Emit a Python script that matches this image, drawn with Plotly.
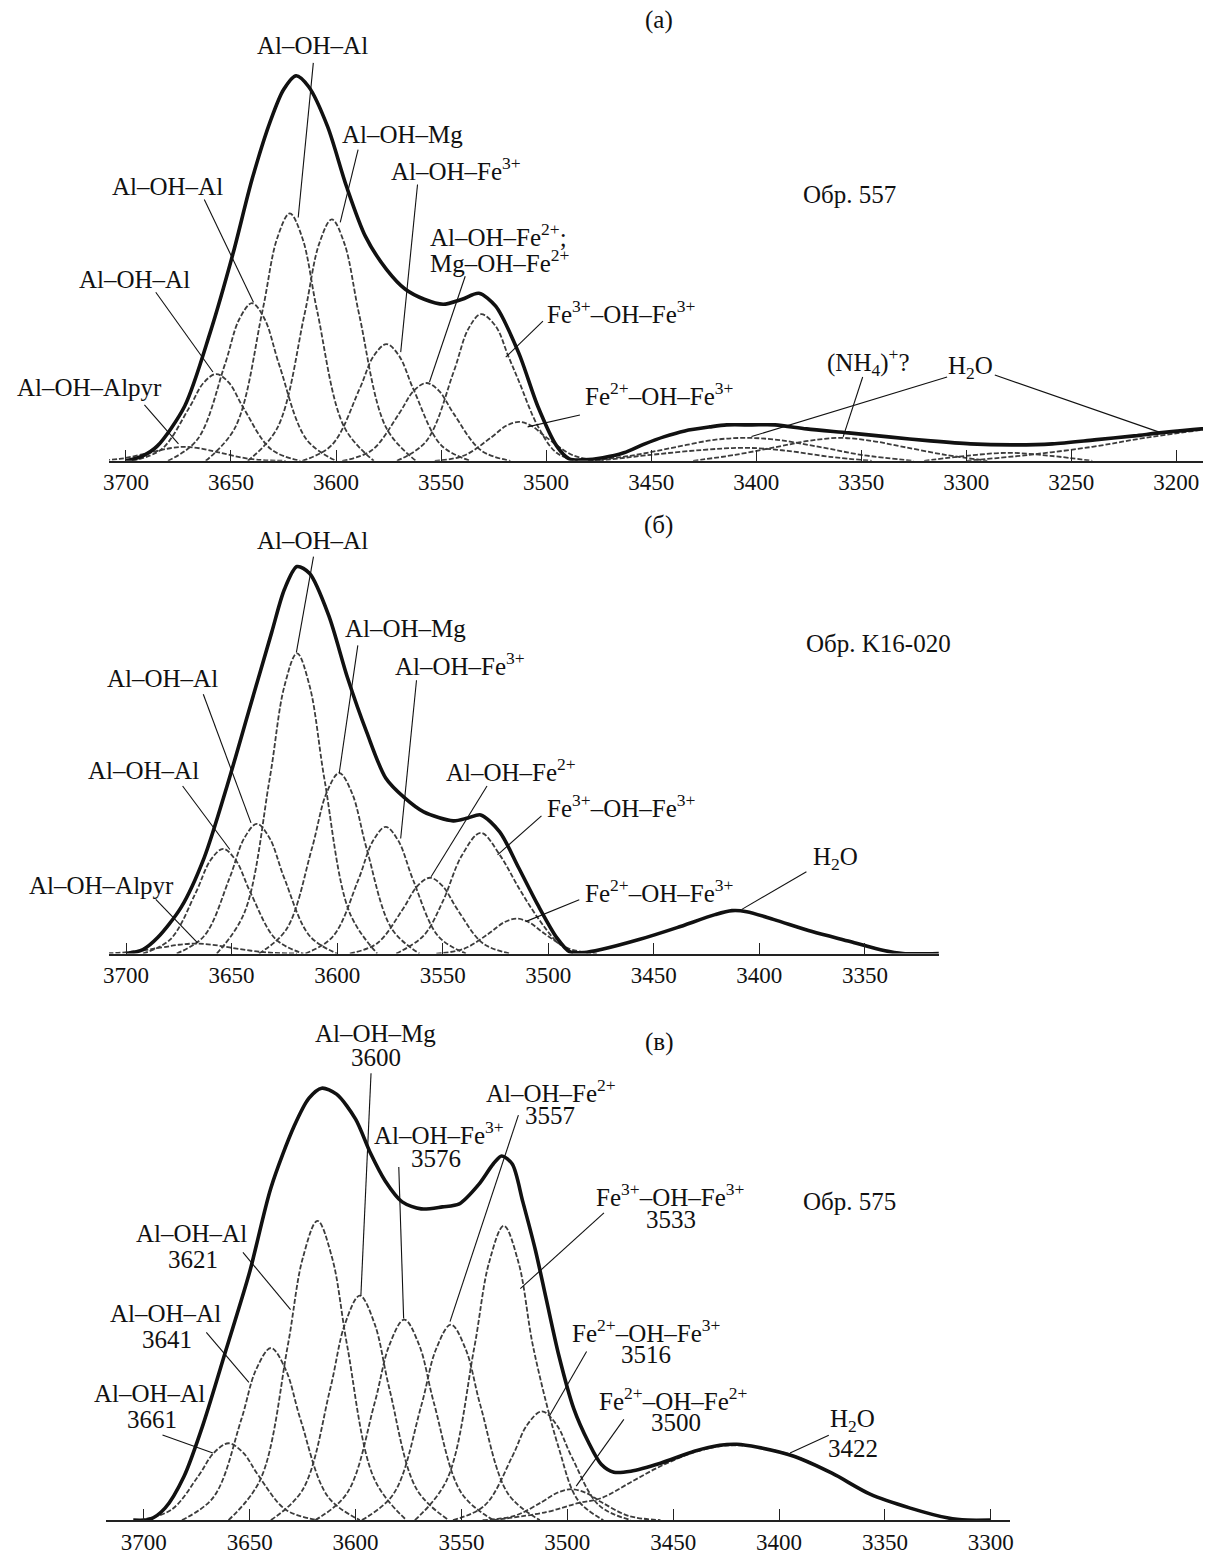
import plotly.graph_objects as go

# ---------------- data: panel (a) Обр. 557 ----------------
a_ticks = [3700, 3650, 3600, 3550, 3500, 3450, 3400, 3350, 3300, 3250, 3200]
a_env_x = [3700, 3692, 3685, 3672, 3660, 3649, 3640, 3631, 3625, 3619, 3613, 3604, 3595, 3586, 3576, 3567,
           3558, 3549, 3540, 3532, 3524, 3513, 3504, 3495, 3489, 3482, 3473, 3463, 3453, 3444, 3434, 3422,
           3414, 3402, 3391, 3376, 3356, 3337, 3317, 3298, 3278, 3259, 3239, 3220, 3208, 3188, 3180]
a_env_y = [0, 5, 15, 55, 128, 208, 282, 342, 372, 386, 375, 335, 275, 225, 192, 172,
           162, 157, 162, 168, 155, 108, 55, 15, 2, 1, 3, 8, 17, 24, 30, 34,
           36, 36, 36, 32, 28, 24, 20, 17, 16, 17, 21, 25, 28, 32, 33]
a_comp_x = [
    [3720, 3703, 3688, 3679, 3672, 3665, 3656, 3641, 3624],
    [3697, 3683, 3670, 3663, 3657, 3651, 3644, 3631, 3617],
    [3680, 3666, 3653, 3646, 3640, 3634, 3627, 3614, 3600],
    [3662, 3648, 3635, 3628, 3622, 3616, 3609, 3596, 3582],
    [3642, 3628, 3615, 3608, 3602, 3596, 3589, 3576, 3562],
    [3616, 3602, 3589, 3582, 3576, 3570, 3563, 3550, 3536],
    [3597, 3583, 3570, 3563, 3557, 3551, 3544, 3531, 3517],
    [3571, 3557, 3544, 3537, 3531, 3524, 3518, 3513, 3504, 3495, 3485],
    [3553, 3539, 3526, 3519, 3513, 3507, 3500, 3487, 3473],
    [3480, 3460, 3440, 3420, 3405, 3390, 3370, 3350, 3325],
    [3475, 3450, 3425, 3405, 3385, 3365, 3345],
    [3430, 3410, 3390, 3375, 3360, 3345, 3330, 3310, 3290],
    [3320, 3300, 3280, 3260, 3240],
    [3300, 3270, 3240, 3215, 3188, 3170],
]
a_comp_y = [
    [0, 1.9, 8.5, 12.6, 14, 12.6, 8.5, 1.9, 0],
    [0, 11.7, 52.8, 78.3, 87, 78.3, 52.8, 11.7, 0],
    [0, 21.3, 95.9, 142.2, 158, 142.2, 95.9, 21.3, 0],
    [0, 33.5, 150.5, 223.2, 248, 223.2, 150.5, 33.5, 0],
    [0, 32.7, 146.9, 217.8, 242, 217.8, 146.9, 32.7, 0],
    [0, 15.8, 71, 105.3, 117, 105.3, 71, 15.8, 0],
    [0, 10.5, 47.3, 70.2, 78, 70.2, 47.3, 10.5, 0],
    [0, 19.8, 89.2, 132.3, 147, 135, 105, 80, 35, 8, 0],
    [0, 5.3, 23.7, 35.1, 39, 35.1, 23.7, 5.3, 0],
    [0, 5, 13, 21, 23, 21, 14, 6, 0],
    [0, 6, 11, 13, 10, 4, 0],
    [0, 6, 14, 20, 23, 20, 14, 6, 0],
    [0, 5, 8, 5, 0],
    [0, 6, 14, 23, 31, 36],
]

# ---------------- data: panel (б) Обр. K16-020 ----------------
b_ticks = [3700, 3650, 3600, 3550, 3500, 3450, 3400, 3350]
b_env_x = [3700, 3692, 3685, 3674, 3663, 3652, 3642, 3631, 3625, 3619, 3613, 3604, 3595, 3586, 3577, 3568,
           3559, 3545, 3538, 3532, 3523, 3514, 3505, 3496, 3490, 3483, 3475, 3457, 3439, 3421, 3413, 3406,
           3393, 3375, 3357, 3341, 3332, 3315]
b_env_y = [0, 4, 16, 46, 96, 169, 242, 322, 365, 388, 381, 339, 276, 222, 176, 156,
           142, 133, 136, 139, 122, 86, 49, 16, 2, 1, 4, 14, 26, 39, 43, 42,
           34, 22, 12, 3, 0, 0]
b_comp_x = [
    [3715, 3699, 3683, 3675, 3667, 3659, 3651, 3635, 3619],
    [3692, 3679, 3667, 3660, 3654, 3648, 3641, 3629, 3616],
    [3676, 3663, 3651, 3644, 3638, 3632, 3625, 3613, 3600],
    [3657, 3644, 3632, 3625, 3619, 3613, 3606, 3594, 3581],
    [3637, 3624, 3612, 3605, 3599, 3593, 3586, 3574, 3561],
    [3615, 3602, 3590, 3583, 3577, 3571, 3564, 3552, 3539],
    [3594, 3581, 3569, 3562, 3556, 3550, 3543, 3531, 3518],
    [3572, 3559, 3550, 3541, 3532, 3523, 3514, 3505, 3496, 3488],
    [3553, 3540, 3528, 3521, 3515, 3509, 3502, 3490, 3477],
]
b_comp_y = [
    [0, 1.4, 6.1, 8.8, 10, 8.8, 6.1, 1.4, 0],
    [0, 14.2, 60.9, 93.5, 105, 93.5, 60.9, 14.2, 0],
    [0, 17.6, 75.4, 115.7, 130, 115.7, 75.4, 17.6, 0],
    [0, 40.6, 174.6, 267.9, 301, 267.9, 174.6, 40.6, 0],
    [0, 24.4, 105, 161.1, 181, 161.1, 105, 24.4, 0],
    [0, 17.1, 73.7, 113, 127, 113, 73.7, 17.1, 0],
    [0, 10.3, 44.1, 67.6, 76, 67.6, 44.1, 10.3, 0],
    [0, 18, 52, 98, 121, 99, 66, 36, 12, 0],
    [0, 4.7, 20.3, 31.2, 35, 31.2, 20.3, 4.7, 0],
]

# ---------------- data: panel (в) Обр. 575 ----------------
c_ticks = [3700, 3650, 3600, 3550, 3500, 3450, 3400, 3350, 3300]
c_env_x = [3705, 3697, 3690, 3681, 3672, 3661, 3650, 3640, 3629, 3622, 3616, 3609, 3600, 3593, 3586, 3578,
           3569, 3559, 3551, 3542, 3535, 3531, 3526, 3521, 3515, 3510, 3504, 3497, 3490, 3484, 3478, 3470,
           3456, 3440, 3428, 3420, 3410, 3393, 3375, 3357, 3338, 3320, 3311, 3300]
c_env_y = [0, 1, 12, 44, 96, 172, 249, 333, 395, 423, 433, 427, 402, 368, 340, 319,
           312, 314, 317, 336, 357, 365, 357, 319, 270, 222, 165, 112, 78, 56, 48, 49,
           57, 69, 75, 76, 73, 64, 47, 26, 12, 2, 0, 0]
c_comp_x = [
    [3702, 3687, 3674, 3667, 3660, 3653, 3646, 3633, 3618],
    [3682, 3667, 3654, 3647, 3640, 3633, 3626, 3613, 3598],
    [3660, 3645, 3632, 3625, 3618, 3611, 3604, 3591, 3576],
    [3640, 3625, 3612, 3605, 3598, 3591, 3584, 3571, 3556],
    [3619, 3604, 3591, 3584, 3577, 3570, 3563, 3550, 3535],
    [3597, 3582, 3569, 3562, 3555, 3548, 3541, 3528, 3513],
    [3572, 3557, 3544, 3537, 3530, 3523, 3516, 3504, 3495, 3483],
    [3554, 3539, 3526, 3519, 3512, 3505, 3498, 3485, 3470],
    [3540, 3525, 3512, 3505, 3498, 3491, 3484, 3471, 3456],
    [3535, 3510, 3495, 3484, 3470, 3456, 3440, 3428, 3420, 3410, 3393, 3375, 3357, 3338, 3320, 3310],
]
c_comp_y = [
    [0, 10.4, 45, 67.3, 77, 67.3, 45, 10.4, 0],
    [0, 23.3, 100.7, 150.8, 172.5, 150.8, 100.7, 23.3, 0],
    [0, 40.5, 175.2, 262.2, 300, 262.2, 175.2, 40.5, 0],
    [0, 30.4, 131.4, 196.7, 225, 196.7, 131.4, 30.4, 0],
    [0, 27.1, 117.4, 175.7, 201, 175.7, 117.4, 27.1, 0],
    [0, 26.5, 114.5, 171.3, 196, 171.3, 114.5, 26.5, 0],
    [0, 39.8, 172.3, 257.8, 295, 257.8, 172.3, 72, 20, 0],
    [0, 14.7, 63.7, 95.3, 109, 95.3, 63.7, 14.7, 0],
    [0, 4.2, 18.1, 27.1, 31, 27.1, 18.1, 4.2, 0],
    [0, 8, 17, 22, 38, 54, 68, 74, 75, 73, 64.5, 47, 26, 12, 2, 0],
]

# ---------------- figure ----------------
W, H = 1207, 1555
FONT = "Liberation Serif, Times New Roman, serif"
COMP_STYLE = dict(color="#3c3c3c", width=1.8, dash="5px,2px", shape="spline", smoothing=1.0)
ENV_STYLE = dict(color="#111111", width=3.6, shape="spline", smoothing=0.8)

fig = go.Figure()


def add_panel(comp_x, comp_y, env_x, env_y, xa, ya):
    for xs, ys in zip(comp_x, comp_y):
        fig.add_trace(go.Scatter(x=xs, y=ys, mode="lines", line=COMP_STYLE,
                                 xaxis=xa, yaxis=ya, hoverinfo="skip", showlegend=False))
    fig.add_trace(go.Scatter(x=env_x, y=env_y, mode="lines", line=ENV_STYLE,
                             xaxis=xa, yaxis=ya, hoverinfo="skip", showlegend=False))


add_panel(a_comp_x, a_comp_y, a_env_x, a_env_y, "x", "y")
add_panel(b_comp_x, b_comp_y, b_env_x, b_env_y, "x2", "y2")
add_panel(c_comp_x, c_comp_y, c_env_x, c_env_y, "x3", "y3")


def xaxis_style(domain, rng, ticks, anchor):
    return dict(domain=domain, range=rng, anchor=anchor, tickvals=ticks,
                ticktext=[str(t) for t in ticks], ticks="inside", ticklen=11,
                tickwidth=1.3, tickcolor="#222", showline=True, linewidth=2,
                linecolor="#222", showgrid=False, zeroline=False,
                tickfont=dict(family=FONT, size=23, color="#111"),
                ticklabelstandoff=0, fixedrange=True)


def yaxis_style(bottom_px, top_px, rng, anchor):
    return dict(domain=[1 - bottom_px / H, 1 - top_px / H], range=rng, anchor=anchor,
                visible=False, showgrid=False, zeroline=False, fixedrange=True)


fig.update_layout(
    width=W, height=H, margin=dict(l=0, r=0, t=0, b=0),
    paper_bgcolor="white", plot_bgcolor="white",
    xaxis=xaxis_style([104 / W, 1.0], [3708.0, 3187.3], a_ticks, "y"),
    yaxis=yaxis_style(462, 22, [0, 440], "x"),
    xaxis2=xaxis_style([104 / W, 941 / W], [3708.0, 3314.8], b_ticks, "y2"),
    yaxis2=yaxis_style(956, 516, [0, 440], "x2"),
    xaxis3=xaxis_style([101 / W, 1012 / W], [3717.8, 3291.1], c_ticks, "y3"),
    yaxis3=yaxis_style(1524, 1044, [0, 480], "x3"),
)

annotations = []
shapes = []


def label(text, px, py, anchor="center", size=25):
    # text placed by page position (pixels from top-left)
    annotations.append(dict(text=text, x=px / W, y=1 - py / H, xref="paper", yref="paper",
                            showarrow=False, xanchor=anchor, yanchor="middle",
                            font=dict(family=FONT, size=size, color="#111")))


def pointer(x0, y0, x1, y1, xr, yr):
    shapes.append(dict(type="line", x0=x0, y0=y0, x1=x1, y1=y1, xref=xr, yref=yr,
                       line=dict(color="#111", width=1.1)))


# panel (a)
xr, yr = "x", "y"
label("(a)", 658, 20)
label("Al–OH–Al", 309, 46); pointer(3610.8, 399, 3618.0, 244, xr, yr)
label("Al–OH–Mg", 400, 135); pointer(3589.5, 312, 3598.0, 239, xr, yr)
label("Al–OH–Fe<sup>3+</sup>", 454, 169); pointer(3561.2, 277, 3569.2, 109, xr, yr)
label("Al–OH–Fe<sup>2+</sup>;", 425.6, 236, anchor="left")
label("Mg–OH–Fe<sup>2+</sup>", 425.6, 262, anchor="left")
pointer(3538.5, 185, 3555.5, 79, xr, yr)
label("Fe<sup>3+</sup>–OH–Fe<sup>3+</sup>", 543, 313, anchor="left")
pointer(3501.5, 140, 3519.2, 104, xr, yr)
label("Fe<sup>2+</sup>–OH–Fe<sup>3+</sup>", 582, 395, anchor="left")
pointer(3483.9, 46, 3508.8, 34, xr, yr)
label("Al–OH–Al", 163, 187); pointer(3662.7, 262, 3639.3, 159, xr, yr)
label("Al–OH–Al", 130, 280); pointer(3685.8, 169, 3658.6, 89, xr, yr)
label("Al–OH–Alpyr", 84, 388); pointer(3691.2, 56, 3675.0, 17, xr, yr)
label("Обр. 557", 851, 195)
label("(NH<sub>4</sub>)<sup>+</sup>?", 870, 363); pointer(3349.3, 84, 3358.6, 24, xr, yr)
label("H<sub>2</sub>O", 973, 368)
pointer(3309.1, 84, 3402.2, 24.3, xr, yr)
pointer(3286.4, 86, 3207.1, 28, xr, yr)

# panel (б)
xr, yr = "x2", "y2"
label("(б)", 658, 526)
label("Al–OH–Al", 309, 542); pointer(3611.2, 398, 3619.3, 302, xr, yr)
label("Al–OH–Mg", 403, 630); pointer(3590.2, 309, 3599.0, 181, xr, yr)
label("Al–OH–Fe<sup>3+</sup>", 458, 666); pointer(3562.4, 274, 3569.9, 115.3, xr, yr)
label("Al–OH–Fe<sup>2+</sup>", 509, 772); pointer(3529.0, 168, 3555.5, 77, xr, yr)
label("Fe<sup>3+</sup>–OH–Fe<sup>3+</sup>", 543, 808, anchor="left")
pointer(3503.2, 138, 3524.0, 99, xr, yr)
label("Fe<sup>2+</sup>–OH–Fe<sup>3+</sup>", 582, 893, anchor="left")
pointer(3485.3, 54, 3510.7, 32, xr, yr)
label("Al–OH–Al", 158, 680); pointer(3663.4, 260, 3640.8, 131, xr, yr)
label("Al–OH–Al", 139, 772); pointer(3673.2, 168, 3650.8, 104.3, xr, yr)
label("Al–OH–Alpyr", 96.5, 888); pointer(3685.9, 54.3, 3666.2, 11, xr, yr)
label("Обр. K16-020", 880, 645)
label("H<sub>2</sub>O", 836, 861); pointer(3377.7, 82, 3408.3, 44.3, xr, yr)

# panel (в)
xr, yr = "x3", "y3"
label("(в)", 658, 1045)
label("Al–OH–Mg", 373, 1036); label("3600", 373, 1060.5)
pointer(3592.7, 448, 3597.5, 225, xr, yr)
label("Al–OH–Fe<sup>3+</sup>", 437, 1136); label("3576", 434, 1161.6)
pointer(3579.6, 354, 3577.3, 202, xr, yr)
label("Al–OH–Fe<sup>2+</sup>", 550, 1093.6); label("3557", 549, 1118)
pointer(3523.1, 406, 3555.4, 199, xr, yr)
label("Fe<sup>3+</sup>–OH–Fe<sup>3+</sup>", 670, 1198); label("3533", 671, 1222.5)
pointer(3482.7, 308, 3522.2, 232, xr, yr)
label("Fe<sup>2+</sup>–OH–Fe<sup>3+</sup>", 645, 1334); label("3516", 645, 1358)
pointer(3490.9, 169, 3508.4, 104.6, xr, yr)
label("Fe<sup>2+</sup>–OH–Fe<sup>2+</sup>", 673, 1403); label("3500", 676, 1426)
pointer(3473.3, 101, 3495.8, 34, xr, yr)
label("H<sub>2</sub>O", 854, 1424.6); label("3422", 854, 1452.5)
pointer(3376.5, 85, 3394.8, 67.3, xr, yr)
label("Обр. 575", 850.6, 1205)
label("Al–OH–Al", 187, 1236.5); label("3621", 189, 1262.6)
pointer(3653.2, 268.4, 3630.7, 211, xr, yr)
label("Al–OH–Al", 161, 1316.6); label("3641", 162.6, 1342.8)
pointer(3670.5, 188.2, 3650.4, 138, xr, yr)
label("Al–OH–Al", 145, 1396.8); label("3661", 147, 1423)
pointer(3691.2, 85.4, 3667.4, 67.3, xr, yr)

fig.update_layout(annotations=annotations, shapes=shapes)
fig.write_html("out.html")
